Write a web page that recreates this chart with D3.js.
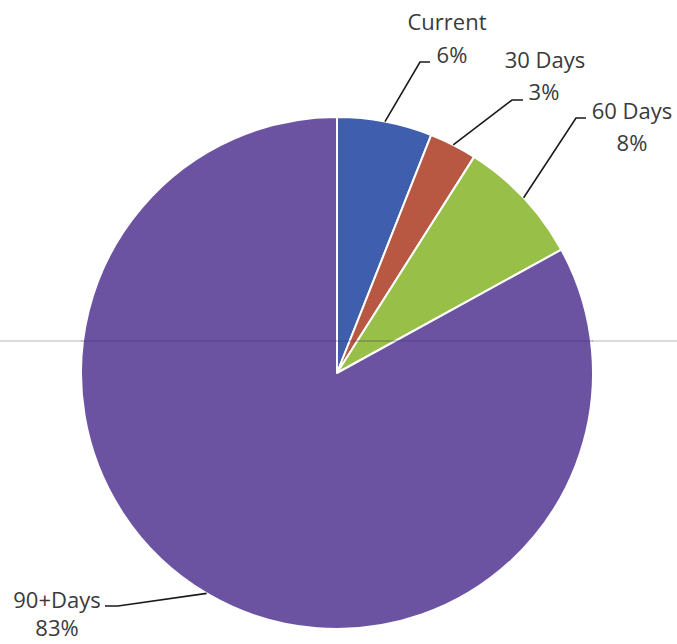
<!DOCTYPE html>
<html>
<head>
<meta charset="utf-8">
<script src="https://cdn.jsdelivr.net/npm/d3@7/dist/d3.min.js"></script>
<style>
  html, body { margin: 0; padding: 0; background: #fff; }
  svg { display: block; }
  text { font-family: "Open Sans", "Noto Sans", sans-serif; fill: #3a3a3a; }
</style>
</head>
<body>
<script>
// Aging buckets and their share of the balance (percent)
const categories = ["Current", "30 Days", "60 Days", "90+Days"];
const shares = [6, 3, 8, 83];
const shareLabels = ["6%", "3%", "8%", "83%"];
const colors = ["#3f5fae", "#b85843", "#98bf47", "#6c53a2"];

const W = 677, H = 644;
const cx = 337, cy = 373, R = 256;

const svg = d3.select("body").append("svg")
  .attr("width", W).attr("height", H);

// Faint horizontal rule running across the page
svg.append("line")
  .attr("x1", 0).attr("x2", W).attr("y1", 341).attr("y2", 341)
  .attr("stroke", "#9a9a9a").attr("stroke-width", 1).attr("opacity", 0.7);

const pie = d3.pie().sort(null).value(d => d)(shares);
const arc = d3.arc().innerRadius(0).outerRadius(R);

const g = svg.append("g").attr("transform", `translate(${cx},${cy})`);

g.selectAll("path.slice")
  .data(pie)
  .join("path")
  .attr("class", "slice")
  .attr("d", arc)
  .attr("fill", (d, i) => colors[i])
  .attr("stroke", "#fff")
  .attr("stroke-width", 2)
  .attr("stroke-linejoin", "round");

// rule line drawn over the pie, slightly darker there
g.append("line")
  .attr("x1", -R).attr("x2", R).attr("y1", 341 - cy).attr("y2", 341 - cy)
  .attr("stroke", "#3d2d66").attr("stroke-width", 2).attr("opacity", 0.25);

// Label placement: name line, value line, leader elbow and tail
const labelLayout = [
  { x: 447, y1: 30, y2: 63, elbow: [420, 62], tail: [430, 62], vx: 452 },
  { x: 545, y1: 68, y2: 100, elbow: [512, 100], tail: [523, 100], vx: 544 },
  { x: 632, y1: 119, y2: 151, elbow: [576, 118], tail: [586, 118], vx: 632 },
  { x: 57, y1: 608, y2: 636, elbow: [118, 606], tail: [105, 606], vx: 57 }
];

const edge = d3.arc().innerRadius(R).outerRadius(R);

pie.forEach((d, i) => {
  const L = labelLayout[i];
  const [px, py] = edge.centroid(d);
  const start = [cx + px, cy + py];
  svg.append("polyline")
    .attr("points", [start, L.elbow, L.tail].map(p => p.join(",")).join(" "))
    .attr("fill", "none")
    .attr("stroke", "#1a1a1a")
    .attr("stroke-width", 1.6);
  svg.append("text")
    .attr("x", L.x).attr("y", L.y1)
    .attr("text-anchor", "middle")
    .attr("font-size", 22)
    .text(categories[i]);
  svg.append("text")
    .attr("x", L.vx).attr("y", L.y2)
    .attr("text-anchor", "middle")
    .attr("font-size", 22)
    .text(shareLabels[i]);
});
</script>
</body>
</html>
